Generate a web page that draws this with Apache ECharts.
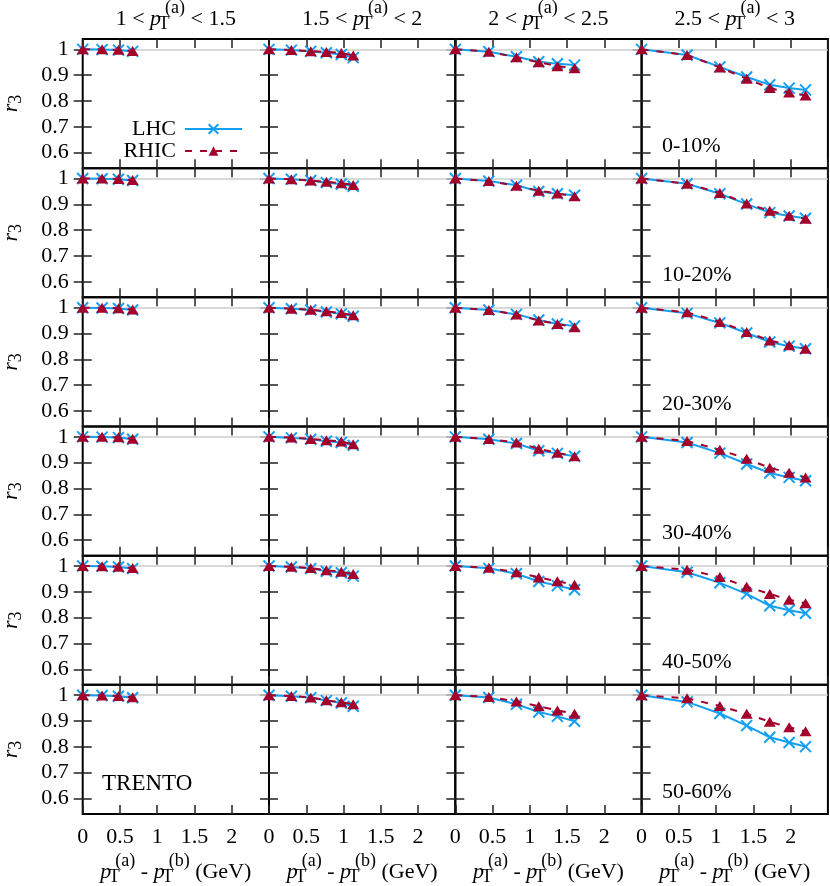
<!DOCTYPE html>
<html>
<head>
<meta charset="utf-8">
<script src="https://cdn.jsdelivr.net/npm/echarts@6/dist/echarts.min.js"></script>
<style>
  html, body { margin: 0; padding: 0; background: #fff; }
  #chart { width: 830px; height: 886px; }
</style>
</head>
<body>
<div id="chart"></div>
<script>
// pT(a) bins (columns) and centrality classes (rows)
const ptBins = [['1', '1.5'], ['1.5', '2'], ['2', '2.5'], ['2.5', '3']]
const centralities = ['0-10%', '10-20%', '20-30%', '30-40%', '40-50%', '50-60%']

// pT(a) - pT(b) positions for each column
const xCol1 = [0, 0.26, 0.48, 0.67]
const xCol2 = [0, 0.30, 0.56, 0.77, 0.97, 1.13]
const xCol3 = [0, 0.45, 0.82, 1.12, 1.37, 1.60]
const xCol4 = [0, 0.61, 1.05, 1.41, 1.72, 1.98, 2.20]

// r3 values, one array per centrality, [col1, col2, col3, col4]
const lhc0010 = [
  [1, 0.999, 0.997, 0.992],
  [1, 0.997, 0.992, 0.987, 0.980, 0.968],
  [1, 0.991, 0.971, 0.952, 0.944, 0.939],
  [1, 0.978, 0.932, 0.893, 0.863, 0.850, 0.843]
]
const rhic0010 = [
  [1, 1.0, 0.998, 0.994],
  [1, 0.997, 0.993, 0.990, 0.986, 0.976],
  [1, 0.991, 0.969, 0.950, 0.935, 0.927],
  [1, 0.978, 0.930, 0.886, 0.850, 0.833, 0.821]
]
const lhc1020 = [
  [1, 0.999, 0.997, 0.992],
  [1, 0.997, 0.992, 0.984, 0.979, 0.970],
  [1, 0.990, 0.974, 0.950, 0.941, 0.935],
  [1, 0.980, 0.941, 0.901, 0.868, 0.855, 0.846]
]
const rhic1020 = [
  [1, 1.0, 0.998, 0.994],
  [1, 0.997, 0.992, 0.987, 0.982, 0.975],
  [1, 0.990, 0.972, 0.953, 0.942, 0.931],
  [1, 0.980, 0.944, 0.903, 0.875, 0.856, 0.844]
]
const lhc2030 = [
  [1, 0.999, 0.997, 0.991],
  [1, 0.996, 0.991, 0.983, 0.976, 0.967],
  [1, 0.991, 0.974, 0.952, 0.937, 0.929],
  [1, 0.978, 0.941, 0.902, 0.867, 0.851, 0.841]
]
const rhic2030 = [
  [1, 1.0, 0.998, 0.993],
  [1, 0.996, 0.992, 0.986, 0.979, 0.971],
  [1, 0.991, 0.974, 0.950, 0.937, 0.924],
  [1, 0.982, 0.945, 0.906, 0.873, 0.855, 0.841]
]
const lhc3040 = [
  [1, 0.999, 0.997, 0.991],
  [1, 0.996, 0.991, 0.983, 0.978, 0.967],
  [1, 0.991, 0.974, 0.946, 0.936, 0.925],
  [1, 0.978, 0.937, 0.895, 0.860, 0.843, 0.830]
]
const rhic3040 = [
  [1, 1.0, 0.998, 0.993],
  [1, 0.997, 0.992, 0.987, 0.982, 0.971],
  [1, 0.992, 0.978, 0.954, 0.938, 0.925],
  [1, 0.984, 0.950, 0.915, 0.880, 0.861, 0.843]
]
const lhc4050 = [
  [1, 0.999, 0.996, 0.990],
  [1, 0.996, 0.990, 0.980, 0.974, 0.961],
  [1, 0.991, 0.970, 0.940, 0.924, 0.908],
  [1, 0.976, 0.935, 0.892, 0.846, 0.829, 0.817]
]
const rhic4050 = [
  [1, 0.999, 0.997, 0.992],
  [1, 0.997, 0.992, 0.984, 0.978, 0.969],
  [1, 0.993, 0.976, 0.956, 0.941, 0.927],
  [1, 0.986, 0.957, 0.920, 0.892, 0.869, 0.856]
]
const lhc5060 = [
  [1, 0.999, 0.996, 0.990],
  [1, 0.996, 0.990, 0.979, 0.970, 0.957],
  [1, 0.991, 0.965, 0.935, 0.918, 0.899],
  [1, 0.974, 0.929, 0.882, 0.837, 0.817, 0.801]
]
const rhic5060 = [
  [1, 0.999, 0.997, 0.992],
  [1, 0.997, 0.991, 0.980, 0.973, 0.965],
  [1, 0.993, 0.976, 0.957, 0.941, 0.928],
  [1, 0.988, 0.958, 0.928, 0.897, 0.876, 0.860]
]

const yTicks = [0.6, 0.7, 0.8, 0.9, 1]

const xCols = [xCol1, xCol2, xCol3, xCol4]
const lhcRows = [lhc0010, lhc1020, lhc2030, lhc3040, lhc4050, lhc5060]
const rhicRows = [rhic0010, rhic1020, rhic2030, rhic3040, rhic4050, rhic5060]

const font = "'Liberation Serif', 'Times New Roman', serif"
const blue = '#139ff2'
const red = '#a3002c'
const crossSymbol = 'path://M0,0L10,10M10,0L0,10'

// panel layout
const left0 = 82.7
const panelW = 186.3
const top0 = 39
const panelH = 129.17

// rich styles: n normal, i italic, t subscript T (tiny width so the superscript stacks over it), s superscript
const richBase = {
  n: { fontFamily: font, fontSize: 22, color: '#000', lineHeight: 26 },
  i: { fontFamily: font, fontSize: 22, fontStyle: 'italic', color: '#000', lineHeight: 26 },
  t: { fontFamily: font, fontSize: 18, color: '#000', lineHeight: 26, padding: [10, 0, 0, 2], width: 2 },
  s: { fontFamily: font, fontSize: 18, color: '#000', lineHeight: 26, padding: [0, 0, 22, 0] },
  r3: { fontFamily: font, fontSize: 18, color: '#000', lineHeight: 26, padding: [10, 0, 0, 0] }
}

const tickStyle = { color: '#222', width: 1.5 }

const grids = []
const xAxes = []
const yAxes = []
const series = []

for (let r = 0; r < 6; r++) {
  for (let c = 0; c < 4; c++) {
    const k = r * 4 + c
    grids.push({
      left: left0 + c * panelW,
      top: top0 + r * panelH,
      width: panelW,
      height: panelH,
      show: true,
      borderColor: '#000',
      borderWidth: 2,
      backgroundColor: 'transparent',
      outerBoundsMode: 'none'
    })
    xAxes.push({
      gridIndex: k,
      type: 'value',
      min: 0,
      max: 2.5,
      interval: 0.5,
      position: 'bottom',
      axisLine: { show: false },
      splitLine: { show: false },
      axisTick: { inside: true, length: 9, lineStyle: tickStyle },
      axisLabel: {
        show: r === 5,
        showMaxLabel: false,
        margin: 12,
        fontFamily: font,
        fontSize: 22,
        color: '#000'
      },
      name: r === 5 ? '{i|p}{t|T}{s|(a)}{n| - }{i|p}{t|T}{s|(b)}{n| (GeV)}' : '',
      nameLocation: 'middle',
      nameGap: 45,
      nameTextStyle: { rich: richBase }
    })
    xAxes.push({
      gridIndex: k,
      type: 'value',
      min: 0,
      max: 2.5,
      interval: 0.5,
      position: 'top',
      axisLine: { show: false },
      splitLine: { show: false },
      axisTick: { inside: true, length: 9, lineStyle: tickStyle },
      axisLabel: { show: false }
    })
    yAxes.push({
      gridIndex: k,
      type: 'value',
      min: 0.54,
      max: 1.04,
      position: 'left',
      axisLine: { show: false },
      splitLine: { show: false },
      axisTick: { inside: true, length: 9, lineStyle: tickStyle, customValues: yTicks },
      axisLabel: {
        show: c === 0,
        customValues: yTicks,
        margin: 14,
        fontFamily: font,
        fontSize: 22,
        color: '#000'
      },
      name: c === 0 ? '{i|r}{r3|3}' : '',
      nameLocation: 'middle',
      nameRotate: 90,
      nameGap: 58,
      nameTextStyle: { rich: richBase }
    })
    yAxes.push({
      gridIndex: k,
      type: 'value',
      min: 0.54,
      max: 1.04,
      position: 'right',
      axisLine: { show: false },
      splitLine: { show: false },
      axisTick: { inside: true, length: 9, lineStyle: tickStyle, customValues: yTicks },
      axisLabel: { show: false }
    })

    const xs = xCols[c]
    series.push({
      name: 'LHC',
      type: 'line',
      xAxisIndex: 2 * k,
      yAxisIndex: 2 * k,
      data: xs.map((x, j) => [x, lhcRows[r][c][j]]),
      symbol: crossSymbol,
      symbolSize: 11,
      lineStyle: { color: blue, width: 2 },
      itemStyle: { color: blue, borderColor: blue, borderWidth: 2 },
      z: 3,
      animation: false,
      markLine: {
        silent: true,
        symbol: 'none',
        z: 1,
        label: { show: false },
        lineStyle: { color: '#cccccc', type: 'solid', width: 1.5 },
        data: [{ yAxis: 1 }],
        animation: false
      }
    })
    series.push({
      name: 'RHIC',
      type: 'line',
      xAxisIndex: 2 * k,
      yAxisIndex: 2 * k,
      data: xs.map((x, j) => [x, rhicRows[r][c][j]]),
      symbol: 'triangle',
      symbolSize: [12, 10],
      lineStyle: { color: red, width: 2, type: [7, 8] },
      itemStyle: { color: red },
      z: 4,
      animation: false
    })
  }
}

const graphics = []
// column titles
ptBins.forEach((b, c) => {
  graphics.push({
    type: 'text',
    x: left0 + c * panelW + panelW / 2,
    y: 19,
    style: {
      text: '{n|' + b[0] + ' < }{i|p}{t|T}{s|(a)}{n| < ' + b[1] + '}',
      rich: richBase,
      align: 'center',
      verticalAlign: 'middle'
    }
  })
})
// centrality labels in the last column
centralities.forEach((name, r) => {
  graphics.push({
    type: 'text',
    x: 662,
    y: top0 + r * panelH + 107,
    style: {
      text: name,
      fontFamily: font,
      fontSize: 22,
      fill: '#000',
      align: 'left',
      verticalAlign: 'middle'
    }
  })
})
graphics.push({
  type: 'text',
  x: 102,
  y: top0 + 5 * panelH + 99,
  style: {
    text: 'TRENTO',
    fontFamily: font,
    fontSize: 23,
    fill: '#000',
    align: 'left',
    verticalAlign: 'middle'
  }
})

const option = {
  animation: false,
  backgroundColor: '#fff',
  legend: {
    data: ['LHC', 'RHIC'],
    orient: 'vertical',
    align: 'right',
    right: 830 - 243,
    top: 118,
    padding: 0,
    itemWidth: 57,
    itemHeight: 12,
    itemGap: 0,
    selectedMode: false,
    textStyle: { fontFamily: font, fontSize: 22, color: '#000', padding: [0, 4, 0, 0] }
  },
  grid: grids,
  xAxis: xAxes,
  yAxis: yAxes,
  series: series,
  graphic: graphics
}

const chart = echarts.init(document.getElementById('chart'))
chart.setOption(option)
</script>
</body>
</html>
